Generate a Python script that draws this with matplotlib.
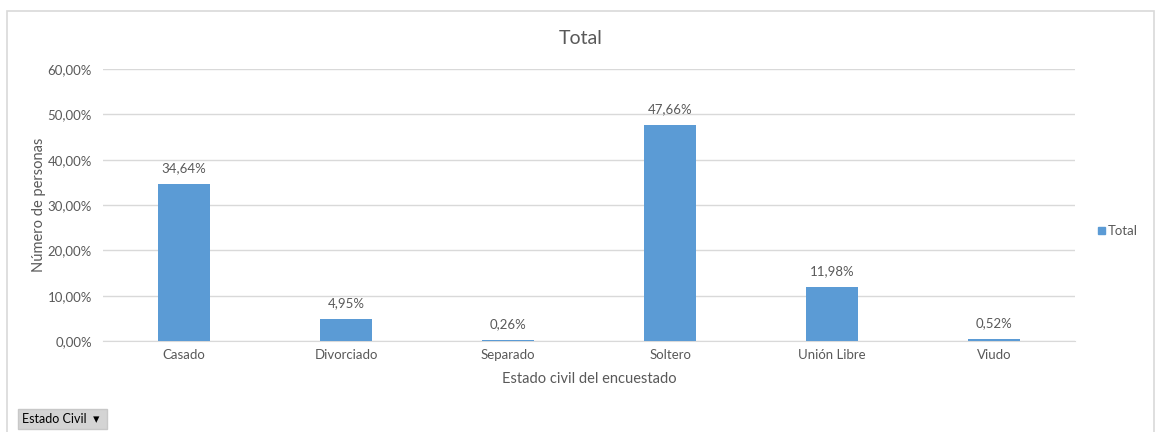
import matplotlib
matplotlib.use('Agg')
import matplotlib.pyplot as plt
from matplotlib.patches import Rectangle
from matplotlib.ticker import FuncFormatter

# data
categorias = ['Casado', 'Divorciado', 'Separado', 'Soltero', 'Unión Libre', 'Viudo']
porcentajes = [34.64, 4.95, 0.26, 47.66, 11.98, 0.52]
yticks = [0, 10, 20, 30, 40, 50, 60]

azul = '#5B9BD5'
gris_txt = '#595959'
plt.rcParams['font.family'] = ['Lato', 'DejaVu Sans']

fig = plt.figure(figsize=(11.55, 4.32), dpi=100)
fig.patch.set_facecolor('white')

# chart frame
fig.patches.append(Rectangle((7/1155, -0.1), 1147/1155, 1 - 11/432 + 0.1,
                             transform=fig.transFigure, fill=False,
                             edgecolor='#D9D9D9', linewidth=1.2))

ax = fig.add_axes([103/1155, 1 - 341/432, 972/1155, 272/432])
x = range(len(categorias))
bars = ax.bar(x, porcentajes, width=0.315, color=azul, zorder=3)

for b, v in zip(bars, porcentajes):
    ax.annotate(('%.2f%%' % v).replace('.', ','),
                (b.get_x() + b.get_width() / 2, b.get_height()),
                xytext=(0, 7), textcoords='offset points',
                ha='center', va='bottom', fontsize=9.5, color=gris_txt)

ax.set_xlim(-0.5, len(categorias) - 0.5)
ax.set_ylim(0, 60)
ax.set_yticks(yticks)
ax.yaxis.set_major_formatter(FuncFormatter(lambda v, p: ('%.2f%%' % v).replace('.', ',')))
ax.set_xticks(list(x))
ax.set_xticklabels(categorias)
ax.tick_params(axis='both', length=0, labelsize=9.5, colors=gris_txt, pad=8)
ax.tick_params(axis='x', pad=6)
ax.grid(axis='y', color='#D9D9D9', linewidth=1, zorder=0)
for s in ['top', 'right', 'left']:
    ax.spines[s].set_visible(False)
ax.spines['bottom'].set_color('#D9D9D9')

ax.set_ylabel('Número de personas', fontsize=10.5, color=gris_txt, labelpad=1)
ax.set_xlabel('Estado civil del encuestado', fontsize=10.5, color=gris_txt, labelpad=8)
fig.text(581/1155, 1 - 38/432, 'Total', ha='center', va='center', fontsize=14, color=gris_txt)

# legend
fig.patches.append(Rectangle((1098/1155, 1 - 234/432), 7/1155, 7/432,
                             transform=fig.transFigure, color=azul))
fig.text(1108/1155, 1 - 231/432, 'Total', ha='left', va='center', fontsize=9.5, color=gris_txt)

# pivot field button
fig.text(22/1155, 1 - 419/432, 'Estado Civil  ▾ ', ha='left', va='center', fontsize=9,
         color='black', family=['Lato', 'DejaVu Sans'],
         bbox=dict(boxstyle='square,pad=0.35', facecolor='#D4D4D4', edgecolor='#C8C8C8'))

fig.savefig('out.png', dpi=100)
